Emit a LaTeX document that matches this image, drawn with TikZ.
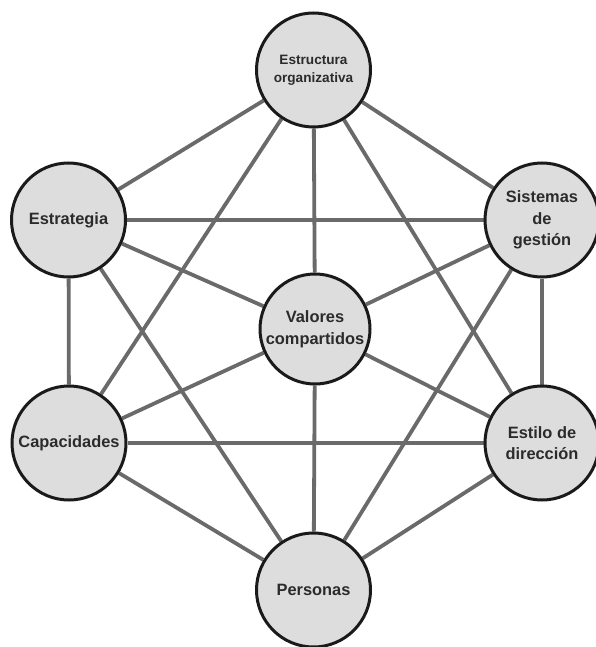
\documentclass[tikz,border=0pt]{standalone}
\usepackage{fontspec}
\setmainfont{Liberation Sans}
\usetikzlibrary{backgrounds}
\definecolor{linegray}{HTML}{6A6A6A}
\definecolor{circfill}{HTML}{DDDDDD}
\definecolor{circline}{HTML}{1A1A1A}
\definecolor{txt}{HTML}{2B2B2B}
\begin{document}
\begin{tikzpicture}[x=1pt,y=-1pt,
  sbox/.style={circle,draw=circline,line width=3pt,fill=circfill,minimum size=114pt,inner sep=0pt,align=center,text=txt,font=\fontsize{16.4}{21.5}\selectfont\bfseries},
  link/.style={draw=linegray,line width=3.8pt}]
\useasboundingbox (0,0) rectangle (595,647);
\node[sbox,font=\fontsize{13.6}{18}\selectfont\bfseries] (est) at (313.5,70) {Estructura\\organizativa};
\node[sbox] (str) at (68.5,220) {Estrategia};
\node[sbox] (sis) at (542,220) {Sistemas\\de\\gestión};
\node[sbox,minimum size=110pt,font=\fontsize{16.4}{22}\selectfont\bfseries] (val) at (315,329) {Valores\\compartidos};
\node[sbox] (cap) at (69,443) {Capacidades};
\node[sbox] (sty) at (542,443) {Estilo de\\dirección};
\node[sbox] (per) at (313.5,590) {Personas};
\begin{scope}[on background layer]
\foreach \a/\b in {est/str,est/sis,str/cap,sis/sty,cap/per,sty/per,
  val/est,val/str,val/sis,val/cap,val/sty,val/per,
  est/cap,est/sty,str/sis,str/per,cap/sty,sis/per}
  \draw[link] (\a) -- (\b);
\end{scope}
\end{tikzpicture}
\end{document}
